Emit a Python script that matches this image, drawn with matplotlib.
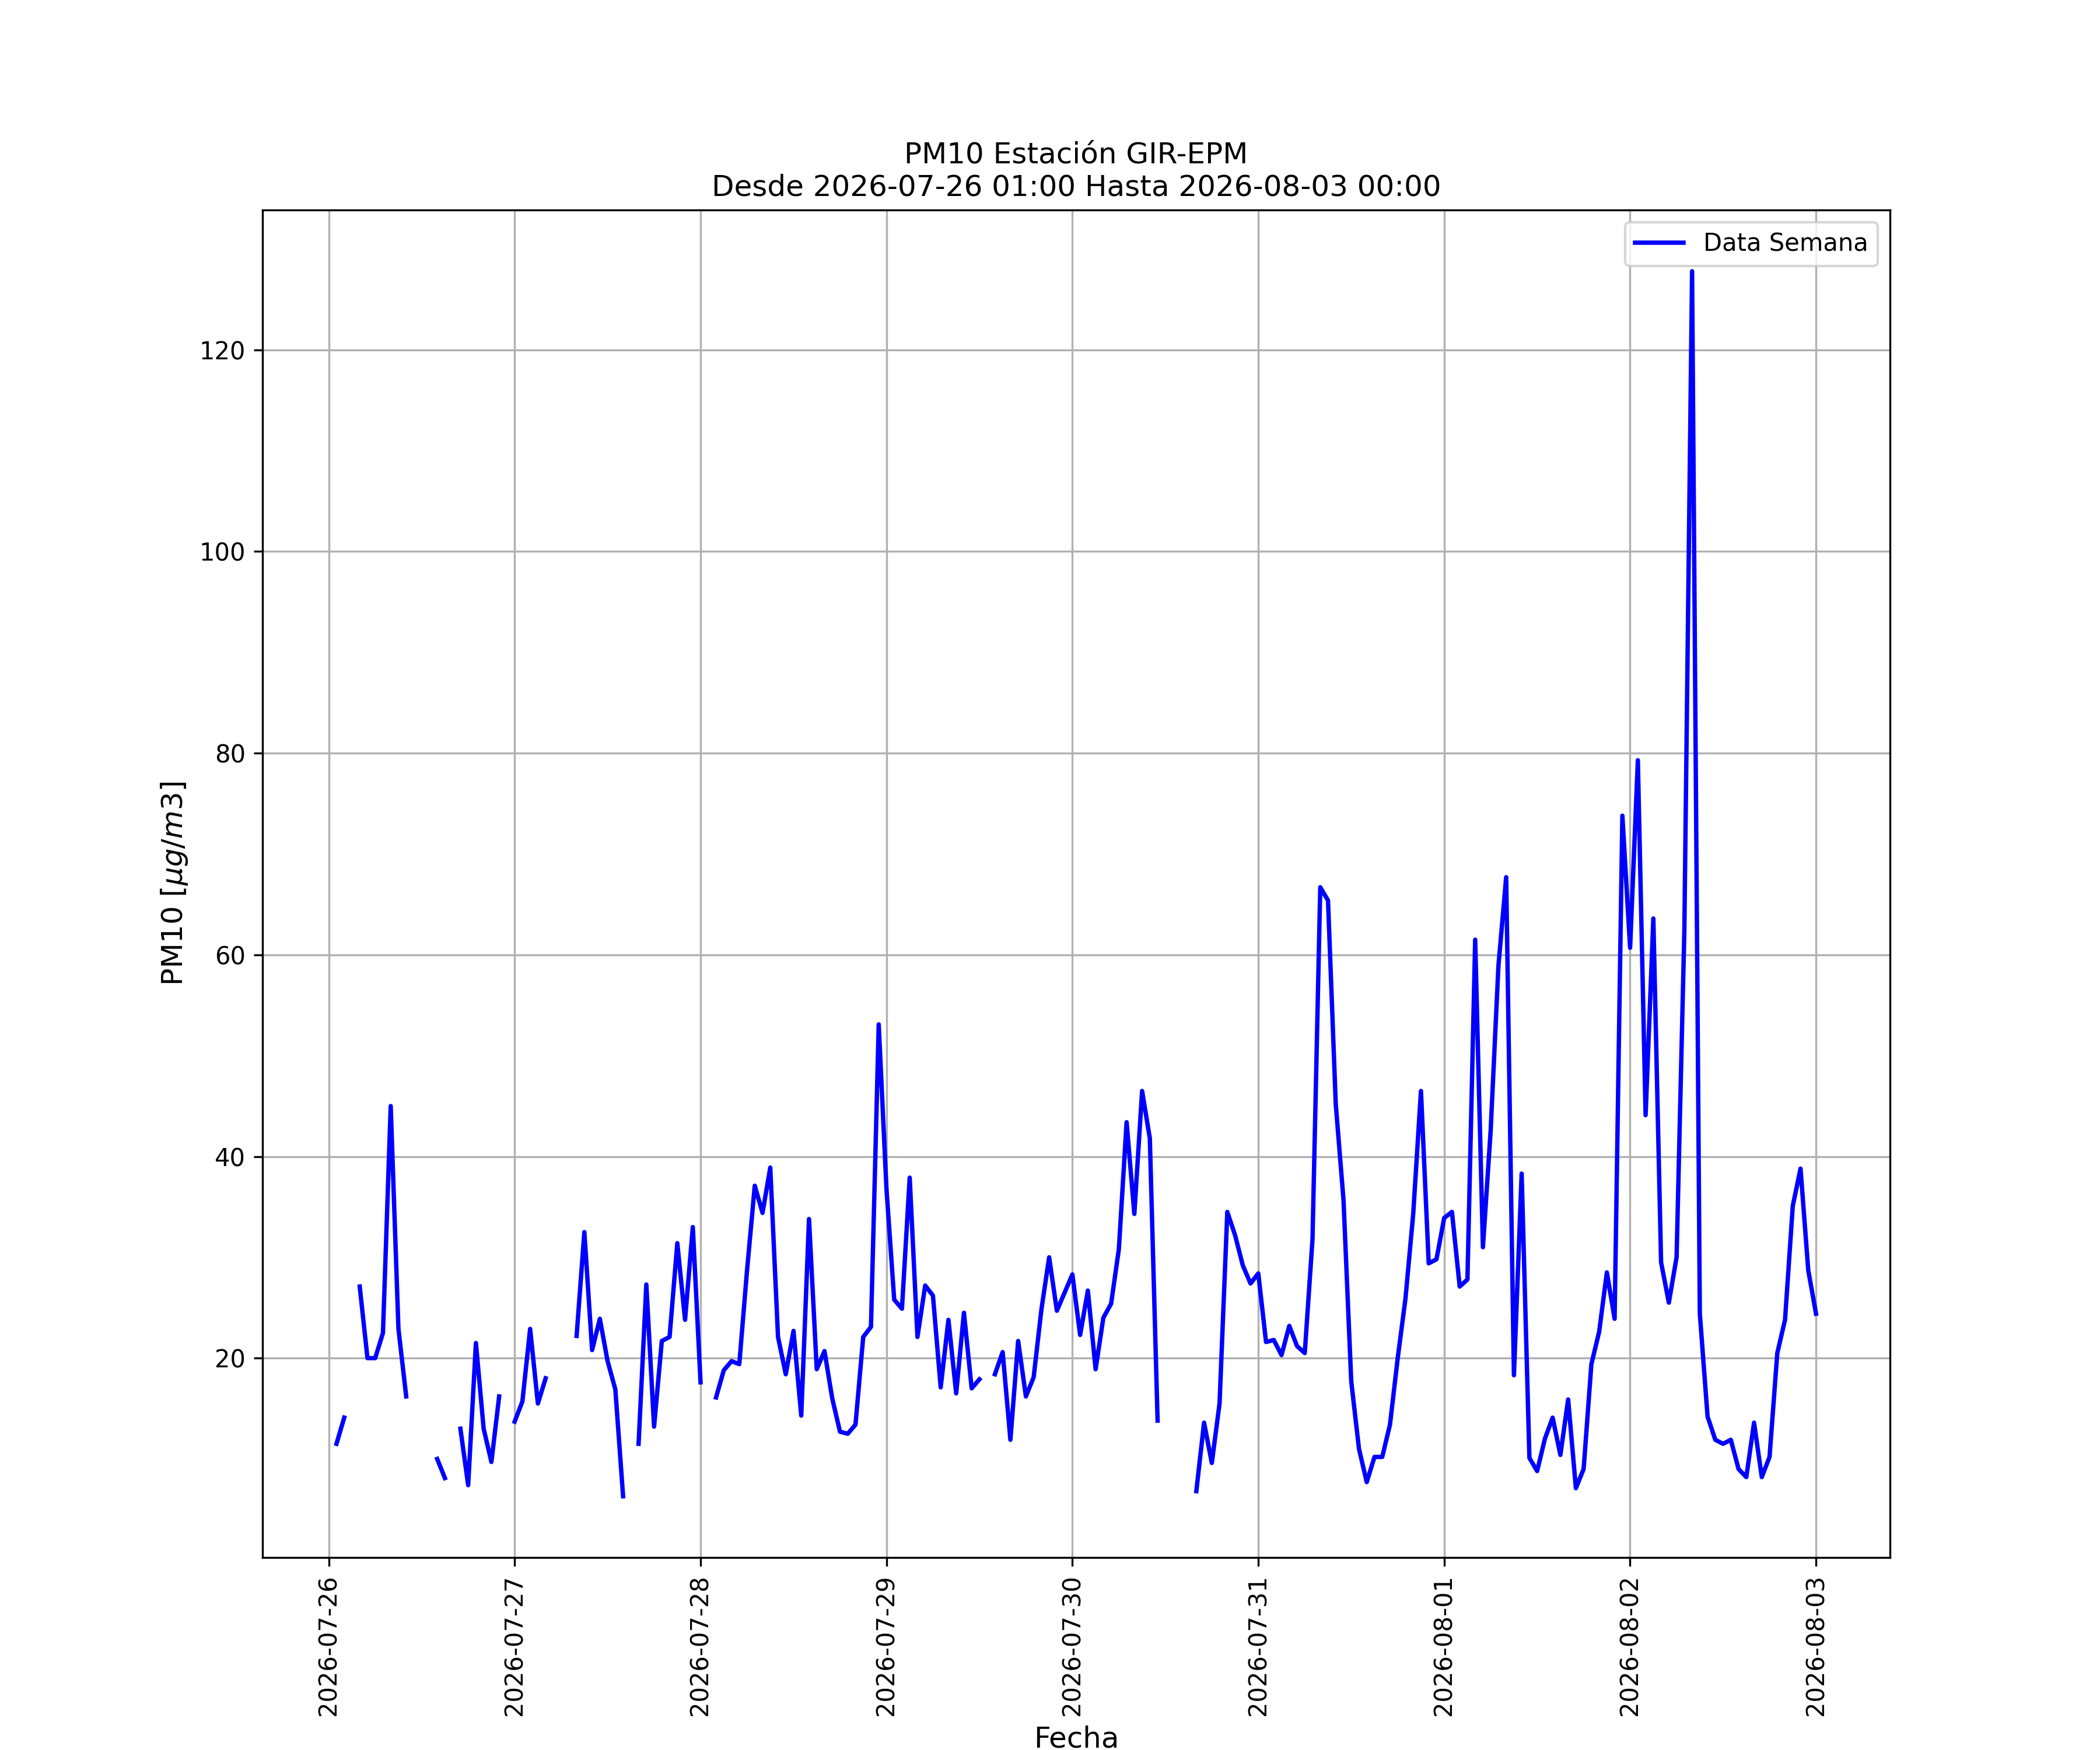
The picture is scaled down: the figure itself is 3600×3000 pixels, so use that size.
import numpy as np
import pandas as pd
import matplotlib
matplotlib.use('Agg')
import matplotlib.pyplot as plt

# Datos horarios PM10 (ug/m3), NaN = sin dato
nan = np.nan
inicio = '2026-07-26 01:00'
fin = '2026-08-03 00:00'

dia_0726 = [11.5, 14.1, nan, 27.1, 20.0, 20.0, 22.5, 45.0, 22.9, 16.2, nan, nan,
            nan, 10.0, 8.1, nan, 13.0, 7.4, 21.5, 13.0, 9.7, 16.2, nan, 13.7]
dia_0727 = [15.7, 22.9, 15.5, 18.0, nan, nan, nan, 22.2, 32.5, 20.8, 23.9, 19.7,
            16.9, 6.3, nan, 11.5, 27.3, 13.2, 21.7, 22.1, 31.4, 23.8, 33.0, 17.6]
dia_0728 = [nan, 16.1, 18.8, 19.7, 19.4, 28.7, 37.1, 34.4, 38.9, 22.1, 18.4, 22.7,
            14.3, 33.8, 18.9, 20.7, 16.0, 12.7, 12.5, 13.4, 22.1, 23.1, 53.1, 36.8]
dia_0729 = [25.8, 24.9, 37.9, 22.1, 27.2, 26.2, 17.1, 23.8, 16.5, 24.5, 17.0, 17.9,
            nan, 18.4, 20.6, 11.9, 21.7, 16.2, 18.1, 24.8, 30.0, 24.7, 26.5, 28.3]
dia_0730 = [22.3, 26.7, 18.9, 24.0, 25.4, 30.8, 43.4, 34.3, 46.5, 41.8, 13.8, nan,
            nan, nan, nan, 6.8, 13.6, 9.6, 15.5, 34.5, 32.2, 29.2, 27.4, 28.4]
dia_0731 = [21.6, 21.8, 20.3, 23.2, 21.2, 20.5, 31.8, 66.7, 65.4, 45.2, 35.7, 17.7,
            11.0, 7.7, 10.2, 10.2, 13.4, 20.0, 25.9, 34.3, 46.5, 29.4, 29.8, 33.9]
dia_0801 = [34.5, 27.1, 27.8, 61.5, 31.0, 42.6, 58.9, 67.7, 18.3, 38.3, 10.1, 8.8,
            12.0, 14.1, 10.4, 15.9, 7.1, 9.0, 19.4, 22.6, 28.5, 23.9, 73.8, 60.7]
dia_0802 = [79.3, 44.1, 63.6, 29.5, 25.5, 30.0, 62.3, 127.8, 24.4, 14.2, 11.9, 11.5,
            11.9, 9.0, 8.2, 13.6, 8.2, 10.2, 20.5, 23.8, 35.1, 38.8, 28.7, 24.4]

pm10 = dia_0726 + dia_0727 + dia_0728 + dia_0729 + dia_0730 + dia_0731 + dia_0801 + dia_0802
fechas = pd.date_range(inicio, fin, freq='h')

fig = plt.figure(figsize=(12, 10), dpi=300)
plt.plot(fechas, pm10, color='b', linewidth=1.8, label='Data Semana')
plt.title('PM10 Estación GIR-EPM\nDesde ' + inicio + ' Hasta ' + fin)
plt.xlabel('Fecha', fontsize=12)
plt.ylabel(r'PM10 [$\mu g/m3$]', fontsize=12)
plt.xticks(rotation=90)
plt.grid(True)
plt.legend(loc='upper right')
plt.savefig('out.png', dpi=300)
